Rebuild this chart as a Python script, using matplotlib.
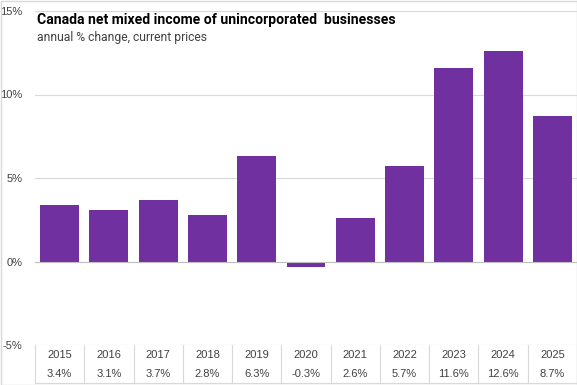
import matplotlib
matplotlib.use("Agg")
import matplotlib.pyplot as plt
from matplotlib.transforms import blended_transform_factory
from matplotlib.patches import Rectangle

years = ["2015", "2016", "2017", "2018", "2019", "2020", "2021", "2022", "2023", "2024", "2025"]
values = [3.4, 3.1, 3.7, 2.8, 6.3, -0.3, 2.6, 5.7, 11.6, 12.6, 8.7]
yticks = [-5, 0, 5, 10, 15]
title = "Canada net mixed income of unincorporated  businesses"
subtitle = "annual % change, current prices"

W, H = 577, 385
fig = plt.figure(figsize=(W / 100, H / 100), dpi=100)
ax = fig.add_axes([35 / W, 1 - 345 / H, (577 - 35) / W, (345 - 11) / H])

x = list(range(len(years)))
ax.bar(x, values, width=0.79, color="#7030A0", zorder=3)
ax.set_xlim(-0.5, len(years) - 0.5)
ax.set_ylim(-5, 15)
ax.set_yticks(yticks)
ax.set_yticklabels([f"{t}%" for t in yticks], fontsize=8, color="#404040",
                   fontfamily="Liberation Sans")
ax.tick_params(axis="y", length=0, pad=9)
ax.set_xticks([])
for s in ax.spines.values():
    s.set_visible(False)
ax.grid(axis="y", color="#d9d9d9", linewidth=0.8, zorder=0)
ax.axhline(0, color="#bfbfbf", linewidth=0.8, zorder=4)

# table below
tr = blended_transform_factory(ax.transData, fig.transFigure)
row1_y = 1 - 355 / H
row2_y = 1 - 374 / H
for i, (yr, v) in enumerate(zip(years, values)):
    ax.text(i, row1_y, yr, transform=tr, ha="center", va="center", fontsize=8,
            color="#404040", fontfamily="Liberation Sans")
    ax.text(i, row2_y, f"{v:.1f}%", transform=tr, ha="center", va="center", fontsize=8,
            color="#404040", fontfamily="Liberation Sans")
for i in range(len(years) + 1):
    xb = i - 0.5
    ax.plot([xb, xb], [1 - 345 / H, 1 - 383 / H], transform=tr, color="#d9d9d9",
            linewidth=0.8, clip_on=False)
ax.plot([-0.5, len(years) - 0.5], [1 - 383 / H, 1 - 383 / H], transform=tr,
        color="#d9d9d9", linewidth=0.8, clip_on=False)

fig.text(37 / W, 1 - 20 / H, title, fontsize=10.1, fontweight="bold",
         fontfamily="Roboto", color="black", va="center", ha="left")
fig.text(37 / W, 1 - 38 / H, subtitle, fontsize=8.7, fontfamily="Roboto",
         color="#404040", va="center", ha="left")

fig.patches.append(Rectangle((0.5 / W, 0.5 / H), 1 - 1 / W, 1 - 1 / H,
                             transform=fig.transFigure, fill=False,
                             edgecolor="#d9d9d9", linewidth=1))

fig.savefig("out.png", dpi=100)
